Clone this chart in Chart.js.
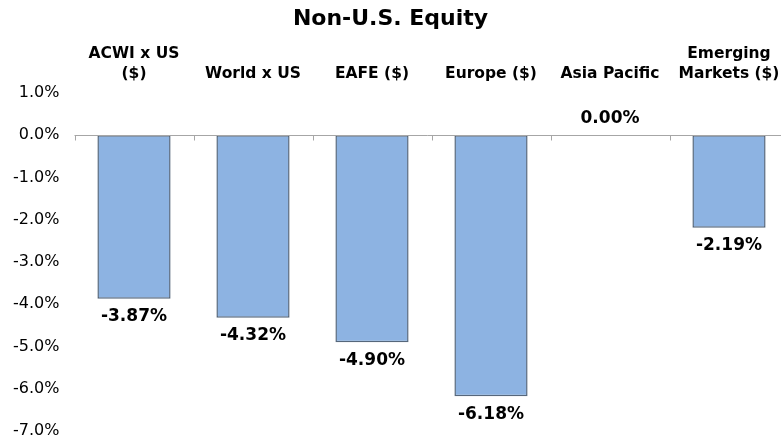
<!DOCTYPE html>
<html>
<head>
<meta charset="utf-8">
<script src="https://cdn.jsdelivr.net/npm/chart.js@4/dist/chart.umd.min.js"></script>
<style>
  html, body { margin: 0; padding: 0; background: #fff; overflow: hidden; }
  #wrap { position: relative; width: 781px; height: 440px; }
</style>
</head>
<body>
<div id="wrap"><canvas id="c" width="781" height="440"></canvas></div>
<script>
const categories = [["ACWI x US", "($)"], "World x US", "EAFE ($)", "Europe ($)", "Asia Pacific", ["Emerging", "Markets ($)"]];
const returns = [-3.87, -4.32, -4.90, -6.18, 0.00, -2.19];
const yTickMin = -7;
const yTickMax = 1;

const FONT = "'DejaVu Sans', Verdana, sans-serif";

const AREA = { left: 74.5, right: 788.5, top: 93, bottom: 431 };

const framePlugin = {
  id: 'frame',
  afterLayout(chart) {
    const { x, y } = chart.scales;
    Object.assign(chart.chartArea, { left: AREA.left, right: AREA.right, top: AREA.top, bottom: AREA.bottom,
      width: AREA.right - AREA.left, height: AREA.bottom - AREA.top });
    const xh = x.height;
    x.left = AREA.left; x.right = AREA.right; x.width = AREA.right - AREA.left;
    x.bottom = AREA.top; x.top = AREA.top - xh;
    x.configure();
    y.left = 0; y.right = AREA.left; y.width = AREA.left;
    y.top = AREA.top; y.bottom = AREA.bottom; y.height = AREA.bottom - AREA.top;
    y.configure();
  }
};

const zeroLinePlugin = {
  id: 'zeroLine',
  afterDatasetsDraw(chart) {
    const { ctx, chartArea, scales } = chart;
    const y0 = Math.round(scales.y.getPixelForValue(0)) + 0.5;
    const step = scales.x.getPixelForValue(1) - scales.x.getPixelForValue(0);
    const x0 = scales.x.getPixelForValue(0) - step / 2;
    ctx.save();
    ctx.strokeStyle = '#a6a6a6';
    ctx.lineWidth = 1;
    ctx.beginPath();
    ctx.moveTo(chartArea.left, y0);
    ctx.lineTo(chart.width, y0);
    for (let i = 0; i <= categories.length; i++) {
      const xx = Math.round(x0 + i * step) + 0.5;
      ctx.moveTo(xx, y0);
      ctx.lineTo(xx, y0 + 5);
    }
    ctx.stroke();
    ctx.restore();
  }
};

const valueLabelPlugin = {
  id: 'valueLabels',
  afterDatasetsDraw(chart) {
    const { ctx } = chart;
    const meta = chart.getDatasetMeta(0);
    const y0 = chart.scales.y.getPixelForValue(0);
    ctx.save();
    ctx.font = "bold 17px " + FONT;
    ctx.fillStyle = '#000';
    ctx.textAlign = 'center';
    ctx.textBaseline = 'middle';
    meta.data.forEach((bar, i) => {
      const v = returns[i];
      const txt = v.toFixed(2) + '%';
      const y = v < 0 ? bar.y + 18 : y0 - 17;
      ctx.fillText(txt, bar.x, y);
    });
    ctx.restore();
  }
};

new Chart(document.getElementById('c'), {
  type: 'bar',
  data: {
    labels: categories,
    datasets: [{
      data: returns,
      backgroundColor: '#8db3e2',
      borderColor: '#56677b',
      borderWidth: 1.5,
      borderSkipped: false,
      barPercentage: 0.615,
      categoryPercentage: 1.0
    }]
  },
  options: {
    responsive: false,
    animation: false,
    devicePixelRatio: 1,
    layout: { padding: 0 },
    plugins: {
      legend: { display: false },
      tooltip: { enabled: false },
      title: {
        display: true,
        text: 'Non-U.S. Equity',
        color: '#000',
        font: { family: FONT, size: 22, weight: 'bold' },
        padding: { top: 6, bottom: 0 }
      }
    },
    scales: {
      x: {
        position: 'top',
        grid: { display: false, drawTicks: false },
        border: { display: false },
        ticks: {
          color: '#000',
          font: { family: FONT, size: 15.5, weight: 'bold', lineHeight: 1.3 },
          padding: 9,
          maxRotation: 0,
          autoSkip: false
        }
      },
      y: {
        min: yTickMin,
        max: yTickMax,
        grid: { display: false, drawTicks: false },
        border: { display: false },
        ticks: {
          stepSize: 1,
          color: '#000',
          font: { family: FONT, size: 16 },
          padding: 15,
          callback: v => Number(v).toFixed(1) + '%'
        }
      }
    }
  },
  plugins: [framePlugin, zeroLinePlugin, valueLabelPlugin]
});
</script>
</body>
</html>
